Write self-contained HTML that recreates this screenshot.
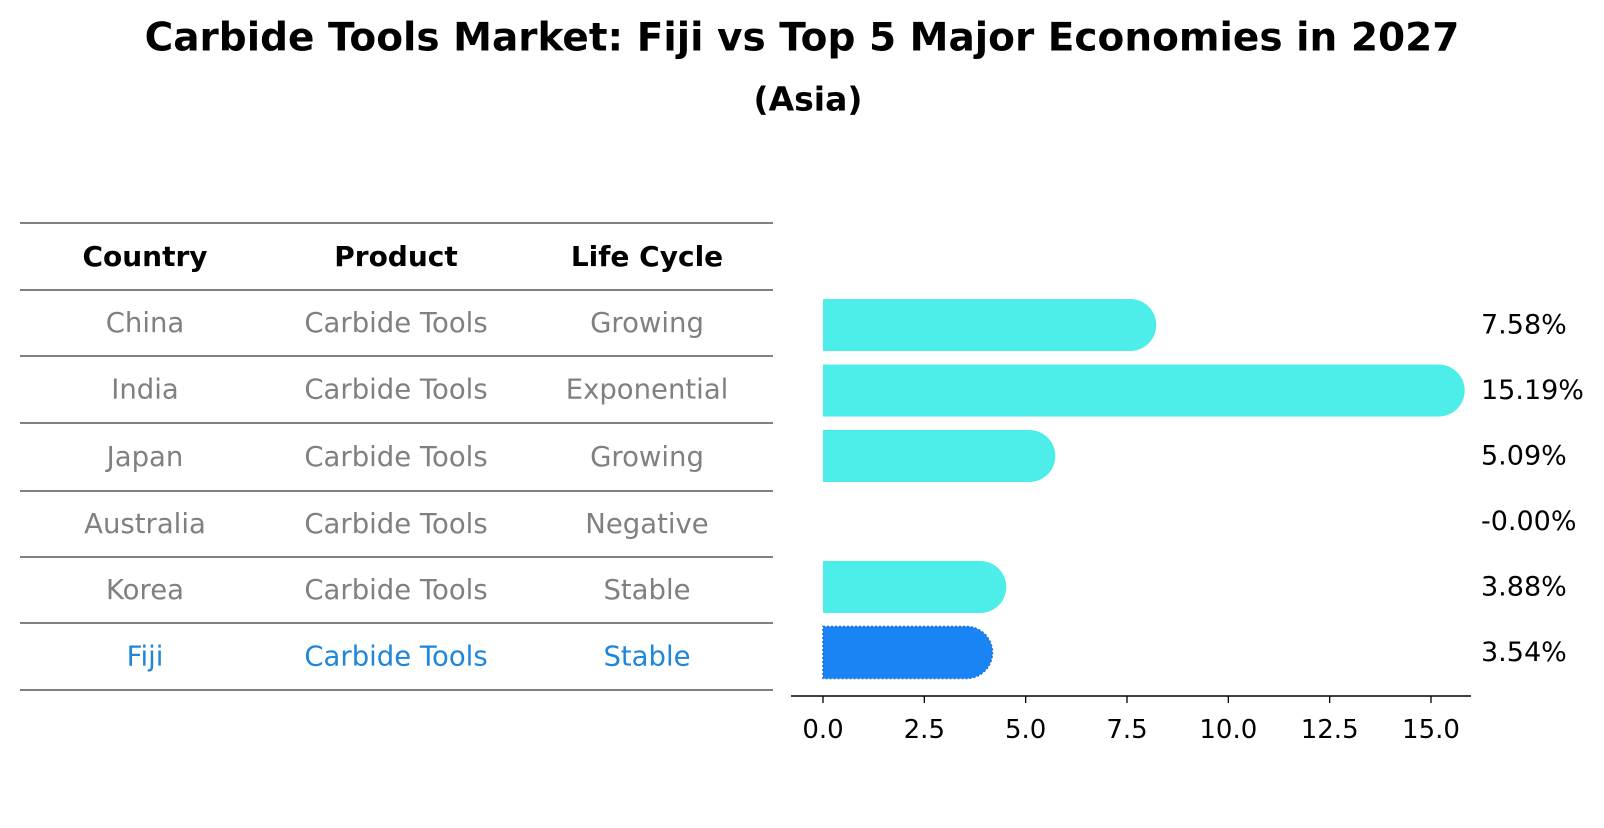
<!DOCTYPE html>
<html><head><meta charset="utf-8"><style>
body{margin:0;background:#fff;}
svg text{font-family:"DejaVu Sans","Liberation Sans",sans-serif;}
</style></head><body>
<svg id="chart" width="1604" height="823" xmlns="http://www.w3.org/2000/svg">
<text x="802" y="38" text-anchor="middle" dominant-baseline="central" font-size="39" font-weight="bold">Carbide Tools Market: Fiji vs Top 5 Major Economies in 2027</text>
<text x="808" y="99" text-anchor="middle" dominant-baseline="central" font-size="33" font-weight="bold">(Asia)</text>
<g id="table"></g>
<g id="bars"></g>
</svg>
<script>
const countries = ["China","India","Japan","Australia","Korea","Fiji"];
const products = ["Carbide Tools","Carbide Tools","Carbide Tools","Carbide Tools","Carbide Tools","Carbide Tools"];
const lifeCycles = ["Growing","Exponential","Growing","Negative","Stable","Stable"];
const values = [7.58, 15.19, 5.09, -0.00, 3.88, 3.54];
const xTicks = [0, 2.5, 5, 7.5, 10, 12.5, 15];
const xTickLabels = ["0.0","2.5","5.0","7.5","10.0","12.5","15.0"];

const NS = "http://www.w3.org/2000/svg";
function mk(tag, attrs, parent){const e=document.createElementNS(NS,tag);for(const k in attrs)e.setAttribute(k,attrs[k]);parent.appendChild(e);return e;}
const table=document.getElementById('table');
const bars=document.getElementById('bars');
const lineYs=[223,290,356,423,491,557,623,690];
const colX=[145,396,647];
lineYs.forEach((y,i)=>{
  const l=mk('line',{x1:20,x2:773,y1:y,y2:y,stroke:'#000','stroke-width':1},table);
  
  
});
["Country","Product","Life Cycle"].forEach((h,j)=>{
  const t=mk('text',{x:colX[j],y:(lineYs[0]+lineYs[1])/2,'text-anchor':'middle','dominant-baseline':'central','font-size':28,'font-weight':'bold'},table);
  t.textContent=h;
  
  
});
countries.forEach((c,i)=>{
  const cy=(lineYs[i+1]+lineYs[i+2])/2;
  const col=c==="Fiji"?'#1f86d9':'#808080';
  [c,products[i],lifeCycles[i]].forEach((v,j)=>{
    const t=mk('text',{x:colX[j],y:cy,'text-anchor':'middle','dominant-baseline':'central','font-size':27.5,fill:col},table);
    t.textContent=v;
    
    
  });
});
const x0=823, pxPerUnit=(1431-823)/15;
const xScale=v=>x0+v*pxPerUnit;
const rowY=i=>325+i*65.5;
const bh=52, r=26;
const axis=mk('line',{x1:791,x2:1471,y1:696,y2:696,stroke:'#000','stroke-width':1.5},bars);


xTicks.forEach((v,i)=>{
  const tk=mk('line',{x1:xScale(v),x2:xScale(v),y1:696,y2:703,stroke:'#000','stroke-width':1.3},bars);
  
  
  const tl=mk('text',{x:xScale(v),y:730,'text-anchor':'middle','dominant-baseline':'central','font-size':26},bars);
  tl.textContent=xTickLabels[i];
  
  
});
lineYs.forEach(y=>{
  const yt=mk('line',{x1:766,x2:771,y1:y,y2:y,stroke:'#000','stroke-width':1},bars);
  
  
});
values.forEach((v,i)=>{
  const cy=rowY(i);
  const isFiji=countries[i]==="Fiji";
  if(Math.abs(v)>0.0001){
    const xe=xScale(v);
    const d=`M${x0},${cy-bh/2} L${xe},${cy-bh/2} A${r},${r} 0 0 1 ${xe},${cy+bh/2} L${x0},${cy+bh/2} Z`;
    const p=mk('path',{d:d,fill:isFiji?'#1a84f5':'#4deee9'},bars);
    if(isFiji){p.setAttribute('stroke','#1f6fd6');p.setAttribute('stroke-dasharray','2 2');p.setAttribute('stroke-width','1.5');}
    
    
  }
  const lb=mk('text',{x:1481,y:cy,'dominant-baseline':'central','font-size':27},bars);
  lb.textContent=(Object.is(v,-0)||v===0?'-0.00':v.toFixed(2))+'%';
  
  
});
</script>
</body></html>
